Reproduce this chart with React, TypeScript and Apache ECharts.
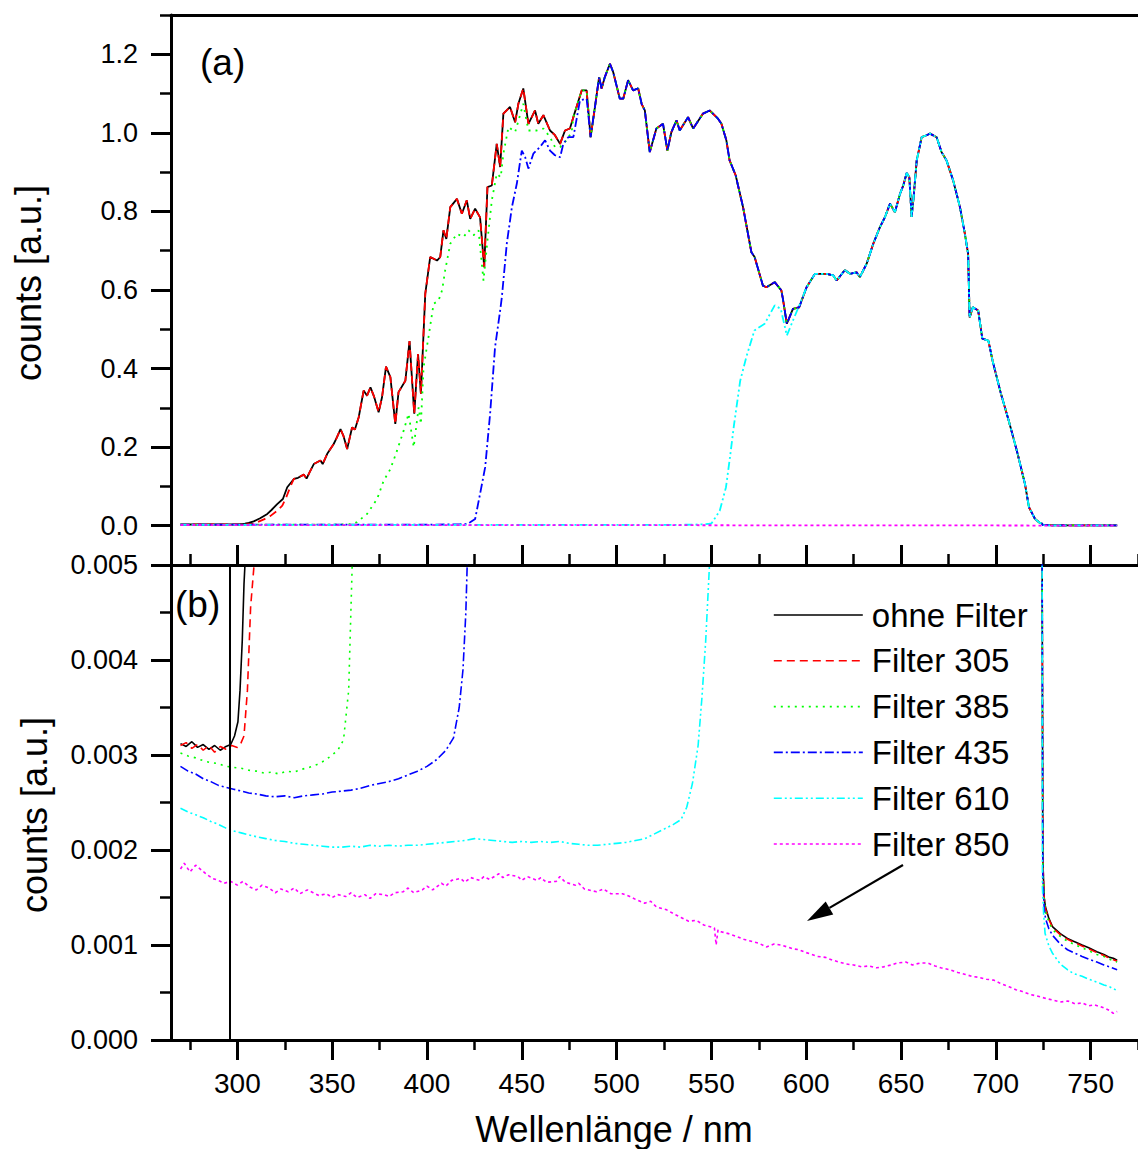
import React, { useEffect, useRef } from "react";
import * as echarts from "echarts";

const FONT = '"Liberation Sans", Arial, Helvetica, sans-serif';

const seriesNames = ["ohne Filter", "Filter 305", "Filter 385", "Filter 435", "Filter 610", "Filter 850"];
const seriesColors = ["#000000", "#ff0000", "#00ff00", "#0000ff", "#00ffff", "#ff00ff"];
const seriesDash: any[] = ["solid", [8, 5], [2, 5], [9, 3, 2, 3], [8, 3, 2, 3, 2, 3], [3, 3]];

const xMajorTicks = [300, 350, 400, 450, 500, 550, 600, 650, 700, 750];
const xMinorTicks = [275, 325, 375, 425, 475, 525, 575, 625, 675, 725, 775];
const yATicks = [0, 0.2, 0.4, 0.6, 0.8, 1.0, 1.2];
const yAMinor = [-0.1, 0.1, 0.3, 0.5, 0.7, 0.9, 1.1, 1.3];
const yBTicks = [0, 0.001, 0.002, 0.003, 0.004, 0.005];
const yBMinor = [0.0005, 0.0015, 0.0025, 0.0035, 0.0045];

// main spectrum (ohne Filter), shared by all filtered curves above their cut-on
const spectrum: number[][] = [
  [304, 0.005], [306, 0.007], [308.6, 0.011], [312, 0.019], [315.8, 0.03], [318, 0.04], [321, 0.055],
  [324, 0.068], [326.3, 0.098], [329.8, 0.119], [332, 0.122], [335, 0.13], [336.5, 0.12], [338, 0.135],
  [340.3, 0.157], [343.8, 0.166], [345, 0.157], [347.4, 0.183], [350.8, 0.208], [352.5, 0.225],
  [354.4, 0.246], [356, 0.228], [357.9, 0.195], [360.5, 0.25], [362, 0.245], [364, 0.276], [366.6, 0.344],
  [368.4, 0.331], [370.2, 0.352], [372, 0.33], [374.5, 0.289], [376.3, 0.327], [378.4, 0.405],
  [380.7, 0.378], [383.3, 0.259], [385, 0.34], [388.6, 0.369], [390.8, 0.47], [393.3, 0.285],
  [395.3, 0.437], [396.8, 0.336], [399.1, 0.59], [401.7, 0.684], [405.3, 0.675], [407, 0.684],
  [408.7, 0.752], [410.2, 0.73], [412.3, 0.811], [415.8, 0.832], [418.4, 0.794], [421, 0.828],
  [422.8, 0.781], [425.4, 0.807], [428, 0.785], [430.2, 0.658], [431.9, 0.862], [434.2, 0.866],
  [436.8, 0.972], [438.6, 0.913], [440.3, 1.049], [443.8, 1.066], [446.5, 1.027], [448.2, 1.074],
  [450.8, 1.113], [453.5, 1.023], [457, 1.057], [458.7, 1.023], [461.4, 1.045], [464.9, 1.006],
  [467.5, 0.994], [470.2, 0.972], [472.8, 1.006], [475.4, 1.011], [477.2, 1.04], [481.6, 1.108],
  [484.2, 1.108], [486.3, 0.989], [488.6, 1.066], [490.8, 1.142], [492.1, 1.113], [493.8, 1.142],
  [496.5, 1.176], [498.2, 1.155], [501.7, 1.087], [503.5, 1.087], [506.1, 1.134], [508.7, 1.108],
  [511.4, 1.113], [513.2, 1.074], [514.9, 1.057], [517.5, 0.951], [521, 1.011], [524.5, 1.023],
  [526.8, 0.955], [528.9, 1.002], [531.6, 1.032], [533.3, 1.006], [537.7, 1.04], [540.4, 1.011],
  [545.6, 1.049], [549.1, 1.057], [553.5, 1.036], [555.3, 1.023], [557.9, 0.981], [559.6, 0.93],
  [562.8, 0.892], [566.7, 0.811], [571.1, 0.696], [572.8, 0.684], [577.2, 0.611], [579, 0.607],
  [583.4, 0.62], [586.9, 0.599], [587.7, 0.578], [589.8, 0.514], [593, 0.552], [596.3, 0.556],
  [600.2, 0.607], [604.6, 0.641], [610.8, 0.641], [614.3, 0.637], [616.1, 0.624], [620.4, 0.651],
  [623.1, 0.641], [626.6, 0.645], [628.3, 0.633], [631.9, 0.667], [635.4, 0.718], [638.9, 0.76],
  [641.6, 0.786], [644.2, 0.82], [646.8, 0.798], [649.5, 0.845], [651.2, 0.866], [653, 0.898],
  [654.4, 0.887], [655.6, 0.786], [656.5, 0.828], [658.3, 0.93], [660.9, 0.989], [663.5, 0.994],
  [665.3, 0.998], [668.8, 0.989], [671.4, 0.951], [674, 0.93], [677.5, 0.879], [681.1, 0.811],
  [683.7, 0.743], [685.4, 0.692], [686.2, 0.53], [687.9, 0.556], [690.7, 0.548], [692.9, 0.476],
  [696.1, 0.471], [698.3, 0.42], [702.5, 0.34], [706.8, 0.268], [711.1, 0.191], [715.4, 0.106],
  [717.5, 0.047], [720.7, 0.017], [723, 0.008], [724.4, 0.0055],
];

const blackLow: number[][] = [
  [270, 0.00312], [273, 0.00309], [276, 0.00314], [279, 0.00308], [282, 0.00311], [285, 0.00306],
  [288, 0.0031], [291, 0.00305], [294, 0.00309], [296.5, 0.00311], [298.5, 0.0032], [300.3, 0.00335],
  [301.4, 0.00368], [302.6, 0.00421], [303.5, 0.0048],
];
const blackTail: number[][] = [
  [724.8, 0.0019], [725.5, 0.0015], [726.2, 0.0014], [728, 0.00128], [730, 0.00119], [734, 0.00112],
  [737.8, 0.00107], [741, 0.00104], [745.5, 0.001], [749, 0.00097], [753.3, 0.00093], [757, 0.0009],
  [760, 0.00087], [762, 0.00086], [764, 0.00084],
];

const redLow: number[][] = [
  [270, 0.0031], [273, 0.00313], [276, 0.00307], [279, 0.00311], [282, 0.00305], [285, 0.0031],
  [288, 0.00303], [291, 0.00309], [294, 0.00306], [297, 0.0031], [300, 0.00308], [302, 0.00313],
  [303.5, 0.0032], [305.3, 0.00368], [307, 0.00456], [308.8, 0.005], [310.5, 0.009], [314, 0.016],
  [317.5, 0.025], [321, 0.038], [323.7, 0.051], [326, 0.075], [328, 0.1],
];
const redTail: number[][] = [
  [724.8, 0.0019], [725.5, 0.0015], [726.2, 0.00138], [728, 0.00127], [730, 0.00118], [734, 0.00111],
  [737.8, 0.00106], [741, 0.00103], [745.5, 0.00099], [749, 0.00096], [753.3, 0.00092], [757, 0.00089],
  [760, 0.00086], [764, 0.00083],
];

const greenLow: number[][] = [
  [270, 0.00302], [274, 0.00299], [278, 0.00297], [282, 0.00294], [286, 0.00292], [290, 0.00291],
  [294, 0.00288], [298, 0.00287], [302, 0.00286], [306, 0.00284], [310, 0.00283], [314, 0.00281],
  [318, 0.00282], [322, 0.0028], [326, 0.00283], [330, 0.00282], [334, 0.00285], [338, 0.00287],
  [342, 0.0029], [346, 0.00294], [350, 0.003], [353, 0.00305], [356, 0.00316], [358.7, 0.00368],
  [360.5, 0.00495], [361.5, 0.0065], [363.1, 0.009], [368.4, 0.03], [373.7, 0.068], [377.2, 0.115],
  [380.7, 0.144], [384.2, 0.191], [387.7, 0.242], [390.3, 0.285], [393, 0.2], [395.6, 0.301],
  [396.8, 0.259], [398.2, 0.403], [400.8, 0.48], [403.5, 0.565], [406.1, 0.573], [408, 0.6],
  [409.6, 0.65], [412.3, 0.718], [415.8, 0.743], [419.3, 0.735], [421.9, 0.752], [424.5, 0.739],
  [427.2, 0.752], [429.8, 0.624], [431.9, 0.726], [434.2, 0.828], [436.8, 0.896], [438.9, 0.887],
  [440.3, 0.947], [443, 1.015], [446.5, 1.002], [450.8, 1.074], [453.5, 1.006], [457.9, 1.006],
  [461.4, 1.011], [464.9, 0.989], [467.5, 0.964], [470.2, 0.964], [473.6, 0.981], [476.3, 1.002],
];
const greenTail: number[][] = [
  [724.8, 0.0018], [725.5, 0.0015], [726.2, 0.00135], [728, 0.00124], [730, 0.00116], [734, 0.00109],
  [737.8, 0.00104], [741, 0.00101], [745.5, 0.00097], [749, 0.00094], [753.3, 0.0009], [757, 0.00088],
  [760, 0.00085], [764, 0.00082],
];

const blueLow: number[][] = [
  [270, 0.00288], [274, 0.00283], [278, 0.0028], [282, 0.00275], [286, 0.00272], [290, 0.00268],
  [294, 0.00266], [298, 0.00264], [302, 0.00262], [306, 0.0026], [310, 0.00259], [315, 0.00257],
  [320, 0.00256], [325, 0.00257], [330, 0.00255], [335, 0.00257], [340, 0.00258], [345, 0.00259],
  [350, 0.00261], [355, 0.00262], [360, 0.00263], [365, 0.00265], [370, 0.00268], [375, 0.0027],
  [380, 0.00272], [385, 0.00275], [390, 0.00279], [395, 0.00283], [400, 0.00288], [405, 0.00295],
  [410, 0.00305], [414, 0.00318], [417, 0.0035], [419, 0.0039], [420.5, 0.0045], [421.5, 0.0052],
  [422.8, 0.009], [425.4, 0.017], [428, 0.081], [430.7, 0.149], [433.3, 0.285], [435.9, 0.454],
  [438.6, 0.548], [439.5, 0.582], [442.1, 0.718], [444.8, 0.811], [447.4, 0.871], [450, 0.955],
  [451.8, 0.938], [453.5, 0.909], [456.1, 0.947], [459.6, 0.964], [462.3, 0.981], [464.9, 0.955],
  [467.5, 0.943], [470.2, 0.938], [471.9, 0.972], [474.5, 0.989], [477.2, 0.989], [480.7, 1.083],
  [484.2, 1.087],
];
const blueTail: number[][] = [
  [724.8, 0.0017], [725.5, 0.0014], [726.2, 0.00128], [728, 0.00117], [730, 0.0011], [734, 0.00101],
  [737.8, 0.00095], [741, 0.00092], [745.5, 0.00088], [749, 0.00085], [753.3, 0.00082], [757, 0.00079],
  [760, 0.00077], [764, 0.00074],
];

const cyanLow: number[][] = [
  [270, 0.00244], [274, 0.0024], [278, 0.00237], [282, 0.00234], [286, 0.0023], [290, 0.00227],
  [294, 0.00223], [298, 0.0022], [302, 0.00218], [306, 0.00216], [310, 0.00214], [315, 0.00212],
  [320, 0.0021], [325, 0.00209], [330, 0.00207], [335, 0.00206], [340, 0.00205], [345, 0.00204],
  [350, 0.00203], [355, 0.00203], [360, 0.00204], [365, 0.00203], [370, 0.00205], [375, 0.00204],
  [380, 0.00205], [385, 0.00204], [390, 0.00205], [395, 0.00205], [400, 0.00206], [405, 0.00207],
  [410, 0.00208], [415, 0.00209], [420, 0.0021], [425, 0.00212], [430, 0.00211], [435, 0.0021],
  [440, 0.00209], [445, 0.00208], [450, 0.00209], [455, 0.00208], [460, 0.00209], [465, 0.00208],
  [470, 0.00209], [475, 0.00207], [480, 0.00206], [485, 0.00205], [490, 0.00205], [495, 0.00206],
  [500, 0.00207], [505, 0.00208], [510, 0.0021], [515, 0.00212], [520, 0.00217], [525, 0.00222],
  [530, 0.00227], [534, 0.00232], [537, 0.00245], [540, 0.0027], [543, 0.0031], [545, 0.0036],
  [547, 0.0042], [549, 0.005], [550.1, 0.006], [552, 0.02], [554.4, 0.038], [557.7, 0.098],
  [559.8, 0.174], [562, 0.259], [565.2, 0.369], [568.4, 0.429], [572.7, 0.497], [578.1, 0.514],
  [583.4, 0.561], [586.6, 0.552], [589.8, 0.484], [593, 0.522], [597.4, 0.573],
];
const cyanTail: number[][] = [
  [724.6, 0.0016], [725.3, 0.0013], [726, 0.00112], [728, 0.00099], [730, 0.00091], [734, 0.0008],
  [737.8, 0.00074], [741, 0.0007], [745.5, 0.00067], [749, 0.00064], [753.3, 0.00061], [757, 0.00058],
  [760, 0.00056], [764, 0.00052],
];

const magenta: number[][] = [
  [270, 0.0018], [272, 0.00186], [275, 0.00177], [278, 0.00184], [281, 0.00179], [284, 0.00174],
  [287, 0.0017], [290, 0.00168], [293, 0.00165], [296.5, 0.00167], [300, 0.00163], [303, 0.00167],
  [306.6, 0.00161], [310, 0.00158], [313, 0.00163], [316.7, 0.0016], [320, 0.00155], [323, 0.00159],
  [326.8, 0.00156], [330, 0.0016], [333, 0.00154], [336.9, 0.00158], [340, 0.00155], [343, 0.00152],
  [347, 0.00154], [350, 0.0015], [353, 0.00153], [357.1, 0.00151], [360, 0.00155], [363, 0.0015],
  [367.2, 0.00153], [370, 0.00149], [373, 0.00154], [377.3, 0.00153], [380, 0.00151], [383, 0.00155],
  [387.4, 0.00156], [390, 0.0016], [393, 0.00155], [397.5, 0.00158], [400, 0.00162], [403, 0.00158],
  [407.6, 0.00165], [410, 0.00162], [413, 0.00168], [417.7, 0.0017], [420, 0.00166], [423, 0.00171],
  [427.8, 0.00168], [430, 0.00172], [433, 0.00169], [437.9, 0.00175], [440, 0.00171], [443, 0.00174],
  [448, 0.00172], [450, 0.00168], [453, 0.00172], [458.1, 0.00168], [460, 0.00171], [463, 0.00166],
  [468.2, 0.00167], [470.1, 0.00172], [473, 0.00166], [478.3, 0.00163], [480, 0.00165], [483, 0.00159],
  [489.5, 0.00156], [493, 0.00159], [497, 0.00154], [503.1, 0.00154], [507, 0.00151], [510, 0.00148],
  [514.8, 0.00144], [518, 0.00146], [521, 0.0014], [526.4, 0.00137], [530, 0.00133], [534, 0.00129],
  [538, 0.00125], [542, 0.00126], [546, 0.00121], [551.6, 0.00118], [552.5, 0.001], [553.5, 0.00116],
  [555, 0.00114], [559, 0.00112], [563.3, 0.00109], [567, 0.00106], [571, 0.00104], [574.9, 0.00102],
  [579, 0.00098], [583, 0.00101], [586.5, 0.001], [590, 0.00098], [593, 0.00096], [596.2, 0.00095],
  [600, 0.00092], [603, 0.0009], [605.9, 0.00088], [610, 0.00087], [614, 0.00084], [617.5, 0.00082],
  [621, 0.0008], [625, 0.00079], [629.2, 0.00077], [633, 0.00078], [637, 0.00076], [640.8, 0.00077],
  [645, 0.00079], [648, 0.00081], [652.5, 0.00082], [656, 0.00079], [660, 0.00081], [664.1, 0.00081],
  [668, 0.00078], [671, 0.00076], [675.7, 0.00074], [680, 0.00071], [684, 0.00069], [687.4, 0.00067],
  [691, 0.00066], [695, 0.00064], [699, 0.00063], [703, 0.00059], [707, 0.00056], [710.6, 0.00053],
  [714, 0.00051], [718, 0.00048], [722.3, 0.00046], [726, 0.00044], [730, 0.00042], [733.9, 0.0004],
  [738, 0.00041], [742, 0.00038], [745.5, 0.00039], [749, 0.00036], [752, 0.00037], [755.2, 0.00035],
  [758, 0.00033], [760, 0.00031], [762, 0.00028], [764, 0.0003],
];

const markerWavelength = 296;

const joinAt = (low: number[][], join: number, tail: number[][]) => [
  ...low,
  ...spectrum.filter((p) => p[0] >= join),
  ...tail,
];

export default function App() {
  const ref = useRef<HTMLDivElement>(null);

  useEffect(() => {
    if (!ref.current) return;
    const chart = echarts.init(ref.current, undefined, { renderer: "svg" });

    const datasets = [
      joinAt(blackLow, 304, blackTail),
      joinAt(redLow, 329.8, redTail),
      joinAt(greenLow, 477.2, greenTail),
      joinAt(blueLow, 486.3, blueTail),
      joinAt(cyanLow, 600.2, cyanTail),
      magenta,
    ];

    const axisLine3 = { show: true, onZero: false, lineStyle: { color: "#000", width: 3 } };
    const noLine = { show: false, onZero: false };
    const labelStyle = { color: "#000", fontFamily: FONT };

    const xBase = { type: "value", min: 265, max: 775, splitLine: { show: false } };
    const xAxis: any[] = [
      {
        ...xBase, gridIndex: 0, position: "bottom", axisLine: axisLine3,
        axisTick: { show: true, inside: true, length: 20, customValues: xMajorTicks, lineStyle: { color: "#000", width: 3 } },
        axisLabel: { show: false },
      },
      {
        ...xBase, gridIndex: 0, position: "bottom", axisLine: noLine,
        axisTick: { show: true, inside: true, length: 11, customValues: xMinorTicks, lineStyle: { color: "#000", width: 2.5 } },
        axisLabel: { show: false },
      },
      {
        ...xBase, gridIndex: 0, position: "top", axisLine: axisLine3,
        axisTick: { show: false }, axisLabel: { show: false },
      },
      {
        ...xBase, gridIndex: 1, position: "bottom", axisLine: axisLine3,
        axisTick: { show: true, length: 20, customValues: xMajorTicks, lineStyle: { color: "#000", width: 3 } },
        axisLabel: { ...labelStyle, fontSize: 28, margin: 29, customValues: xMajorTicks, formatter: (v: number) => String(v) },
      },
      {
        ...xBase, gridIndex: 1, position: "bottom", axisLine: noLine,
        axisTick: { show: true, length: 10, customValues: xMinorTicks, lineStyle: { color: "#000", width: 2.5 } },
        axisLabel: { show: false },
      },
    ];

    const yAxis: any[] = [
      {
        type: "value", gridIndex: 0, position: "left", min: -0.1, max: 1.3, splitLine: { show: false },
        axisLine: axisLine3,
        axisTick: { show: true, length: 20, customValues: yATicks, lineStyle: { color: "#000", width: 3 } },
        axisLabel: { ...labelStyle, fontSize: 27, margin: 33, customValues: yATicks, formatter: (v: number) => v.toFixed(1) },
      },
      {
        type: "value", gridIndex: 0, position: "left", min: -0.1, max: 1.3, splitLine: { show: false },
        axisLine: noLine,
        axisTick: { show: true, length: 11, customValues: yAMinor, lineStyle: { color: "#000", width: 2.5 } },
        axisLabel: { show: false },
      },
      {
        type: "value", gridIndex: 1, position: "left", min: 0, max: 0.005, splitLine: { show: false },
        axisLine: axisLine3,
        axisTick: { show: true, length: 20, customValues: yBTicks, lineStyle: { color: "#000", width: 3 } },
        axisLabel: { ...labelStyle, fontSize: 27, margin: 33, customValues: yBTicks, formatter: (v: number) => v.toFixed(3) },
      },
      {
        type: "value", gridIndex: 1, position: "left", min: 0, max: 0.005, splitLine: { show: false },
        axisLine: noLine,
        axisTick: { show: true, length: 11, customValues: yBMinor, lineStyle: { color: "#000", width: 2.5 } },
        axisLabel: { show: false },
      },
    ];

    const series: any[] = [];
    seriesNames.forEach((name, i) => {
      const lineStyle = { color: seriesColors[i], width: 1.8, type: seriesDash[i] };
      series.push({
        type: "line", name, xAxisIndex: 0, yAxisIndex: 0, data: datasets[i],
        symbol: "none", showSymbol: false, lineStyle, itemStyle: { color: seriesColors[i] }, clip: true,
      });
    });
    seriesNames.forEach((name, i) => {
      const lineStyle = { color: seriesColors[i], width: 1.6, type: seriesDash[i] };
      const s: any = {
        type: "line", name, xAxisIndex: 3, yAxisIndex: 2, data: datasets[i],
        symbol: "none", showSymbol: false, lineStyle, itemStyle: { color: seriesColors[i] }, clip: true,
      };
      if (i === 0) {
        s.markLine = {
          silent: true, symbol: ["none", "none"], label: { show: false },
          lineStyle: { color: "#000", width: 2, type: "solid" },
          data: [{ xAxis: markerWavelength }],
        };
      }
      series.push(s);
    });

    // arrow geometry
    const ax0 = 903, ay0 = 865, tipX = 807, tipY = 921;
    const dx = tipX - ax0, dy = tipY - ay0;
    const len = Math.sqrt(dx * dx + dy * dy);
    const ux = dx / len, uy = dy / len;
    const headLen = 26, headHalf = 7.5;
    const bx = tipX - ux * headLen, by = tipY - uy * headLen;
    const px = -uy, py = ux;

    chart.setOption({
      animation: false,
      backgroundColor: "#ffffff",
      textStyle: { fontFamily: FONT },
      grid: [
        { left: 171, top: 15, width: 967, height: 550, containLabel: false },
        { left: 171, top: 565, width: 967, height: 475, containLabel: false },
      ],
      xAxis,
      yAxis,
      legend: {
        data: seriesNames,
        orient: "vertical",
        left: 773,
        top: 597,
        padding: 0,
        itemWidth: 89,
        itemHeight: 14,
        itemGap: 9.8,
        itemStyle: { opacity: 0, borderWidth: 0 },
        lineStyle: { opacity: 1, width: 1.6 },
        textStyle: { fontSize: 33, lineHeight: 36, color: "#000", fontFamily: FONT, padding: [0, 0, 0, 4] },
      },
      graphic: [
        { type: "text", x: 28, y: 283, rotation: Math.PI / 2, style: { text: "counts [a.u.]", fontSize: 36, fontFamily: FONT, fill: "#000", align: "center", verticalAlign: "middle" } },
        { type: "text", x: 34, y: 815, rotation: Math.PI / 2, style: { text: "counts [a.u.]", fontSize: 36, fontFamily: FONT, fill: "#000", align: "center", verticalAlign: "middle" } },
        { type: "text", x: 614, y: 1129, style: { text: "Wellenlänge / nm", fontSize: 36, fontFamily: FONT, fill: "#000", align: "center", verticalAlign: "middle" } },
        { type: "text", x: 200, y: 62, style: { text: "(a)", fontSize: 37, fontFamily: FONT, fill: "#000", align: "left", verticalAlign: "middle" } },
        { type: "text", x: 175, y: 604, style: { text: "(b)", fontSize: 37, fontFamily: FONT, fill: "#000", align: "left", verticalAlign: "middle" } },
        { type: "line", shape: { x1: ax0, y1: ay0, x2: bx, y2: by }, style: { stroke: "#000", lineWidth: 2.2 } },
        {
          type: "polygon",
          shape: { points: [[tipX, tipY], [bx + px * headHalf, by + py * headHalf], [bx - px * headHalf, by - py * headHalf]] },
          style: { fill: "#000" },
        },
      ],
      series,
    });

    return () => chart.dispose();
  }, []);

  return <div ref={ref} style={{ position: "absolute", left: 0, top: 0, width: 1138, height: 1149 }} />;
}
